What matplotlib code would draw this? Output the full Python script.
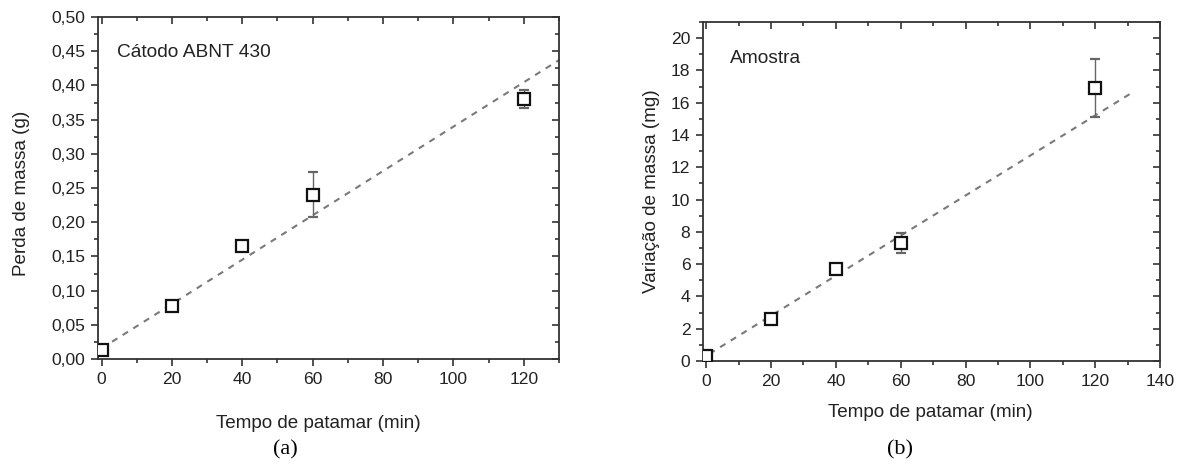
import matplotlib
matplotlib.use("Agg")
import matplotlib.pyplot as plt
from matplotlib.ticker import MultipleLocator, FuncFormatter

plt.rcParams['font.family'] = ['Liberation Sans', 'DejaVu Sans']

# ---- data (a) ----
tempo_a = [0, 20, 40, 60, 120]
perda_a = [0.013, 0.077, 0.165, 0.240, 0.380]
err_a = [0.0, 0.0, 0.0, 0.033, 0.013]
fit_a_x = [0, 130]
fit_a_y = [0.0155, 0.437]

# ---- data (b) ----
tempo_b = [0, 20, 40, 60, 120]
var_b = [0.3, 2.6, 5.7, 7.3, 16.9]
err_b = [0.0, 0.0, 0.0, 0.6, 1.8]
fit_b_x = [1, 132]
fit_b_y = [0.45, 16.7]

W, H = 1181, 472
fig = plt.figure(figsize=(W / 100, H / 100), dpi=100)

def px_axes(x0, y_top, x1, y_bot):
    return [x0 / W, (H - y_bot) / H, (x1 - x0) / W, (y_bot - y_top) / H]

ax_a = fig.add_axes(px_axes(98, 17, 559, 359))
ax_b = fig.add_axes(px_axes(703, 22, 1160, 361))

spine_col = '#333333'
tick_fs = 12.6
label_fs = 13.6

def style(ax, xmaj, xmin, ymaj, ymin):
    for s in ax.spines.values():
        s.set_color(spine_col)
        s.set_linewidth(1.3)
    ax.xaxis.set_major_locator(MultipleLocator(xmaj))
    ax.xaxis.set_minor_locator(MultipleLocator(xmin))
    ax.yaxis.set_major_locator(MultipleLocator(ymaj))
    ax.yaxis.set_minor_locator(MultipleLocator(ymin))
    ax.tick_params(which='both', direction='out', color=spine_col, width=1.2,
                   labelsize=tick_fs, labelcolor='#222222', pad=4)
    ax.tick_params(which='major', length=5)
    ax.tick_params(which='minor', length=3)
    # mirrored inward ticks on top and right
    top = ax.secondary_xaxis('top')
    top.xaxis.set_major_locator(MultipleLocator(xmaj))
    top.xaxis.set_minor_locator(MultipleLocator(xmin))
    top.tick_params(which='both', direction='in', color=spine_col, width=1.2,
                    labeltop=False)
    top.tick_params(which='major', length=5)
    top.tick_params(which='minor', length=3)
    top.spines['top'].set_visible(False)
    right = ax.secondary_yaxis('right')
    right.yaxis.set_major_locator(MultipleLocator(ymaj))
    right.yaxis.set_minor_locator(MultipleLocator(ymin))
    right.tick_params(which='both', direction='in', color=spine_col, width=1.2,
                      labelright=False)
    right.tick_params(which='major', length=5)
    right.tick_params(which='minor', length=3)
    right.spines['right'].set_visible(False)

# ---- panel (a) ----
ax_a.plot(fit_a_x, fit_a_y, linestyle=(0, (3, 3)), color='#7a7a7a', lw=1.5, zorder=1)
ax_a.errorbar(tempo_a, perda_a, yerr=err_a, fmt='s', ms=8, mfc='white', mec='#111111',
              mew=1.6, ecolor='#666666', elinewidth=1.0, capsize=3.5, capthick=1.0, zorder=3)
ax_a.set_xlim(-1, 130)
ax_a.set_ylim(0, 0.5)
style(ax_a, 20, 10, 0.05, 0.025)
ax_a.yaxis.set_major_formatter(FuncFormatter(lambda v, p: f"{v:.2f}".replace('.', ',')))
ax_a.set_xlabel('Tempo de patamar (min)', fontsize=label_fs, color='#222222')
ax_a.set_ylabel('Perda de massa (g)', fontsize=label_fs, color='#222222')
ax_a.xaxis.set_label_coords(0.477, -0.164)
ax_a.yaxis.set_label_coords(-0.148, 0.485)
ax_a.text(0.041, 0.895, 'Cátodo ABNT 430', transform=ax_a.transAxes, fontsize=13.8,
          color='#222222', va='center', ha='left')

# ---- panel (b) ----
ax_b.plot(fit_b_x, fit_b_y, linestyle=(0, (3, 3)), color='#7a7a7a', lw=1.5, zorder=1)
ax_b.errorbar(tempo_b, var_b, yerr=err_b, fmt='s', ms=8, mfc='white', mec='#111111',
              mew=1.6, ecolor='#666666', elinewidth=1.0, capsize=3.5, capthick=1.0, zorder=3)
ax_b.set_xlim(-1, 140)
ax_b.set_ylim(0, 21)
style(ax_b, 20, 10, 2, 1)
ax_b.set_xlabel('Tempo de patamar (min)', fontsize=label_fs, color='#222222')
ax_b.set_ylabel('Variação de massa (mg)', fontsize=label_fs, color='#222222')
ax_b.xaxis.set_label_coords(0.497, -0.127)
ax_b.yaxis.set_label_coords(-0.094, 0.5)
ax_b.text(0.059, 0.891, 'Amostra', transform=ax_b.transAxes, fontsize=13.8,
          color='#222222', va='center', ha='left')

# ---- panel letters ----
fig.text(285 / W, 1 - 450 / H, '(a)', fontsize=16, family=['Liberation Serif', 'DejaVu Serif'],
         ha='center', va='center')
fig.text(900 / W, 1 - 450 / H, '(b)', fontsize=16, family=['Liberation Serif', 'DejaVu Serif'],
         ha='center', va='center')

fig.savefig('out.png', dpi=100, facecolor='white')
